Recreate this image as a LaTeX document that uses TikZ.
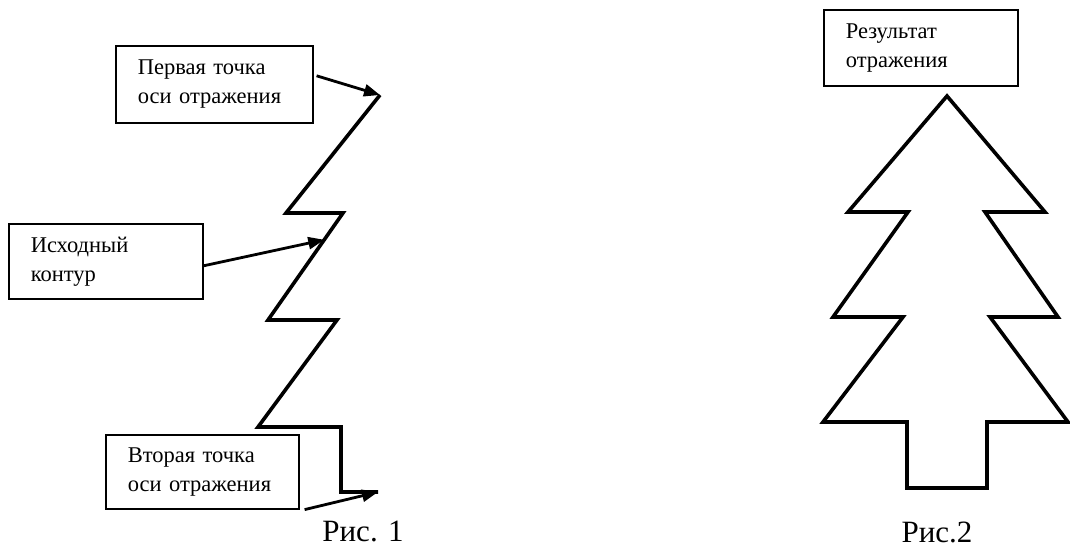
\documentclass[tikz,border=0pt]{standalone}
\usepackage{fontspec}
\setmainfont{Liberation Serif}
\usetikzlibrary{arrows.meta,calc}
\begin{document}
\begin{tikzpicture}[x=1pt,y=-1pt,
  lbl/.style={draw,line width=1.6pt,anchor=north west,align=left,inner xsep=22pt,inner ysep=0pt,font=\fontsize{22.5}{29}\selectfont},
  contour/.style={line width=3.6pt,line join=miter},
  arr/.style={line width=2.8pt,-{Triangle[length=16pt,width=12pt]}},
  capt/.style={font=\fontsize{31}{36}\selectfont,inner sep=0pt}]
\useasboundingbox (0,0) rectangle (1070,548);
% figure 1 contour
\coordinate (p1) at (380,95);
\coordinate (p2) at (286,213);
\coordinate (p3) at (343,213);
\coordinate (p4) at (268,320);
\coordinate (p5) at (337,320);
\coordinate (p6) at (258,427);
\coordinate (p7) at (341,427);
\coordinate (p8) at (341,492);
\coordinate (p9) at (378,492);
\draw[contour] (p1) -- (p2) -- (p3) -- (p4) -- (p5) -- (p6) -- (p7) -- (p8) -- (p9);
\coordinate (a2) at ($(p3)!0.25!(p4)$);
% labels
\node[lbl,text width=153pt,minimum height=77pt] (b1) at (115,45) {Первая точка\\оси отражения};
\node[lbl,text width=150pt,minimum height=75pt] (b2) at (8,223) {Исходный\\контур};
\node[lbl,text width=149pt,minimum height=74pt] (b3) at (105,434) {Вторая точка\\оси отражения};
\node[lbl,text width=150pt,minimum height=76pt] (b4) at (823,9) {Результат\\отражения};
% arrows
\draw[arr] ([xshift=3pt,yshift=8.5pt]b1.east) -- (p1);
\draw[arr] ([yshift=-4.5pt]b2.east) -- (a2);
\draw[arr] ([xshift=5pt]b3.south east) -- (p9);
% figure 2 tree
\coordinate (t0) at (947,96);
\draw[contour] (t0) -- (1045,212) -- (985,212) -- (1058,317) -- (990,317) -- (1068,422) -- (987,422) -- (987,488) -- (907,488) -- (907,422) -- (823,422) -- (903,317) -- (833,317) -- (908,212) -- (848,212) -- cycle;
% captions
\node[capt] (c1) at (363,531) {Рис. 1};
\node[capt] (c2) at (937,532) {Рис.2};
\end{tikzpicture}
\end{document}
